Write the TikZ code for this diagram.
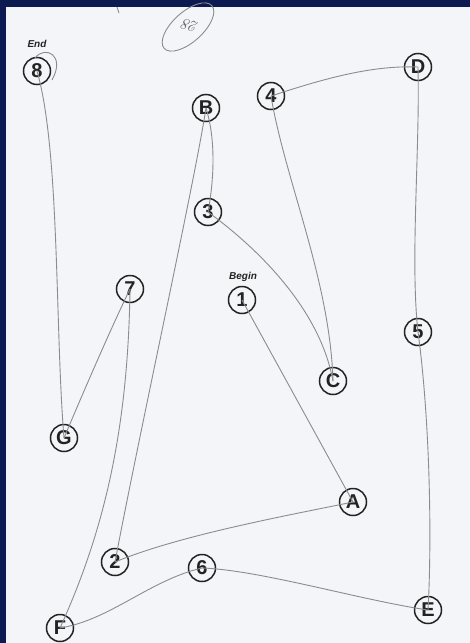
\documentclass[tikz,border=0pt]{standalone}
\usepackage{fontspec}
\newfontfamily\tmtfont{Liberation Sans}
\definecolor{paper}{RGB}{244, 245, 248}
\definecolor{frame}{RGB}{12, 26, 82}
\definecolor{pencil}{RGB}{140, 140, 140}
\definecolor{ink}{RGB}{35, 35, 35}

\tikzset{
	target/.style={circle, draw=ink, line width=1.5pt, minimum size=27pt, inner sep=0pt,
		font=\tmtfont\bfseries\fontsize{20}{20}\selectfont, text=ink},
	stroke/.style={draw=pencil, line width=0.9pt},
	cue/.style={font=\tmtfont\bfseries\itshape\fontsize{10}{10}\selectfont, text=ink}
}

\begin{document}
\begin{tikzpicture}[x=1pt, y=-1pt]
			% scan and frame
			\fill[frame] (0,0) rectangle (470,643);
			\fill[paper] (6,7) rectangle (470,643);
			\useasboundingbox (0,0) rectangle (470,643);
			
			% numbers
			\node[target] (n1) at (242,300) {1};
			\node[target] (n2) at (115,562) {2};
			\node[target] (n3) at (208,212) {3};
			\node[target] (n4) at (271,96)  {4};
			\node[target] (n5) at (418,332) {5};
			\node[target] (n6) at (202,568) {6};
			\node[target] (n7) at (130,289) {7};
			\node[target] (n8) at (37,71)   {8};
			% letters
			\node[target] (nA) at (353,502) {A};
			\node[target] (nB) at (206,108) {B};
			\node[target] (nC) at (333,381) {C};
			\node[target] (nD) at (418,67)  {D};
			\node[target] (nE) at (428,610) {E};
			\node[target] (nF) at (60,628)  {F};
			\node[target] (nG) at (64,438)  {G};
			
			% begin / end
			\node[cue] (begin) at (243,277) {Begin};
			\node[cue] (end)   at (37,44)   {End};
			
			% pencil trail
			\draw[stroke] (n1.center) -- (nA.center);
			\draw[stroke] (nA.center) .. controls (290,515) and (180,535) .. (n2.center);
			\draw[stroke] (n2.center) .. controls (140,430) and (195,180) .. (nB.center);
			\draw[stroke] (nB.center) .. controls (216,140) and (214,180) .. (n3.center);
			\draw[stroke] (n3.center) .. controls (260,250) and (320,310) .. (nC.center);
			\draw[stroke] (nC.center) .. controls (330,280) and (285,180) .. (n4.center);
			\draw[stroke] (n4.center) .. controls (320,80) and (370,65) .. (nD.center);
			\draw[stroke] (nD.center) .. controls (420,150) and (410,260) .. (n5.center);
			\draw[stroke] (n5.center) .. controls (430,420) and (432,540) .. (nE.center);
			\draw[stroke] (nE.center) .. controls (360,600) and (260,570) .. (n6.center);
			\draw[stroke] (n6.center) .. controls (150,580) and (110,620) .. (nF.center);
			\draw[stroke] (nF.center) .. controls (100,540) and (128,440) .. (n7.center);
			\draw[stroke] (n7.center) .. controls (110,330) and (80,400) .. (nG.center);
			\draw[stroke] (nG.center) .. controls (55,330) and (60,150) .. (n8.center);
			\draw[stroke] (35,58) .. controls (45,45) and (66,55) .. (52,80);
			
			% examiner's note
			\draw[stroke] (188,27) ellipse[x radius=32, y radius=15, rotate=42];
			\node[font=\itshape\fontsize{16}{16}\selectfont, text=pencil!70!black, rotate=160] (note) at (190,26) {28};
			\draw[stroke] (117,7) -- (119,13);
\end{tikzpicture}
\end{document}
